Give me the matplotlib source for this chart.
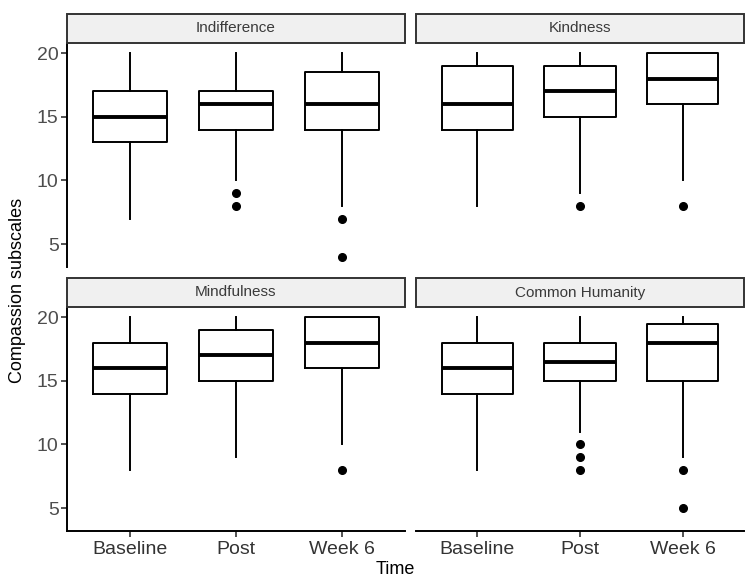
import matplotlib.pyplot as plt
from matplotlib.patches import Rectangle

plt.rcParams['font.family'] = ['Liberation Sans', 'DejaVu Sans']

times = ['Baseline', 'Post', 'Week 6']
facets = ['Indifference', 'Kindness', 'Mindfulness', 'Common Humanity']

# box summary per facet: one value per time point
whisk_lo = {
    'Indifference': [7, 10, 8],
    'Kindness': [8, 9, 10],
    'Mindfulness': [8, 9, 10],
    'Common Humanity': [8, 11, 9],
}
q1 = {
    'Indifference': [13, 14, 14],
    'Kindness': [14, 15, 16],
    'Mindfulness': [14, 15, 16],
    'Common Humanity': [14, 15, 15],
}
med = {
    'Indifference': [15, 16, 16],
    'Kindness': [16, 17, 18],
    'Mindfulness': [16, 17, 18],
    'Common Humanity': [16, 16.5, 18],
}
q3 = {
    'Indifference': [17, 17, 18.5],
    'Kindness': [19, 19, 20],
    'Mindfulness': [18, 19, 20],
    'Common Humanity': [18, 18, 19.5],
}
whisk_hi = {
    'Indifference': [20, 20, 20],
    'Kindness': [20, 20, 20],
    'Mindfulness': [20, 20, 20],
    'Common Humanity': [20, 20, 20],
}
outliers = {
    'Indifference': [[], [9, 8], [7, 4]],
    'Kindness': [[], [8], [8]],
    'Mindfulness': [[], [], [8]],
    'Common Humanity': [[], [10, 9, 8], [8, 5]],
}

W, H = 745, 577
fig = plt.figure(figsize=(W / 100, H / 100), dpi=100)

# panel boxes in pixels: (left, top, right, bottom)
panels = {
    'Indifference': (67, 43, 405, 267),
    'Kindness': (416, 43, 744, 267),
    'Mindfulness': (67, 307, 405, 531),
    'Common Humanity': (416, 307, 744, 531),
}
strip_h = 29

for i, name in enumerate(facets):
    l, t, r, b = panels[name]
    ax = fig.add_axes([l / W, 1 - b / H, (r - l) / W, (b - t) / H])
    stats = []
    for j in range(3):
        stats.append(dict(whislo=whisk_lo[name][j], q1=q1[name][j], med=med[name][j],
                          q3=q3[name][j], whishi=whisk_hi[name][j], fliers=outliers[name][j]))
    ax.bxp(stats, positions=[1, 2, 3], widths=0.7, showcaps=False,
           boxprops=dict(color='black', linewidth=1.4),
           whiskerprops=dict(color='black', linewidth=1.4),
           medianprops=dict(color='black', linewidth=2.8, solid_capstyle='butt'),
           flierprops=dict(marker='o', markerfacecolor='black', markeredgecolor='black',
                           markersize=5.5, linestyle='none'))
    ax.set_xlim(0.4, 3.6)
    ax.set_ylim(3.2, 20.8)
    ax.set_yticks([5, 10, 15, 20])

    left_col = i % 2 == 0
    bottom_row = i >= 2
    for s in ax.spines.values():
        s.set_visible(False)
    ax.spines['left'].set_visible(left_col)
    ax.spines['bottom'].set_visible(bottom_row)
    for s in ('left', 'bottom'):
        ax.spines[s].set_linewidth(1.4)
        ax.spines[s].set_color('black')
    ax.tick_params(axis='y', left=left_col, labelleft=left_col, length=4, width=1.2,
                   color='#333333', labelsize=14, labelcolor='#4d4d4d', pad=2)
    ax.tick_params(axis='x', bottom=bottom_row, labelbottom=bottom_row, length=4, width=1.2,
                   color='#333333', labelsize=14, labelcolor='#333333', pad=3)
    ax.set_xticks([1, 2, 3])
    ax.set_xticklabels(times)

    # facet strip
    sax = fig.add_axes([l / W, 1 - t / H, (r - l) / W, strip_h / H])
    sax.set_xlim(0, 1)
    sax.set_ylim(0, 1)
    sax.axis('off')
    sax.add_patch(Rectangle((0, 0), 1, 1, facecolor='#f0f0f0', edgecolor='#333333',
                            linewidth=1.4, transform=sax.transAxes, clip_on=False))
    sax.text(0.5, 0.5, name, ha='center', va='center', fontsize=11, color='#3a3a3a')

fig.text(395 / W, 1 - 570 / H, 'Time', ha='center', va='center', fontsize=13)
fig.text(18 / W, 1 - 290 / H, 'Compassion subscales', ha='center', va='center',
         rotation=90, fontsize=13)

fig.savefig('out.png', dpi=100)
